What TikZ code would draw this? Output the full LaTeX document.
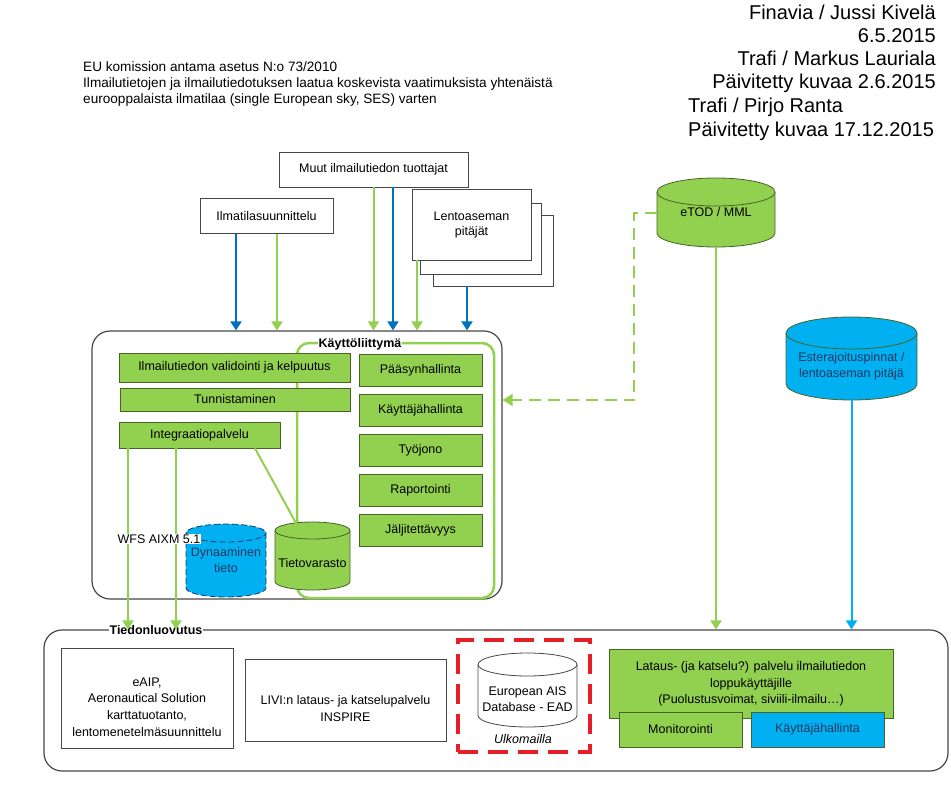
\documentclass[tikz,border=0pt]{standalone}
\usepackage{fontspec}
\setmainfont{Liberation Sans}
\usetikzlibrary{shapes.geometric, arrows.meta, positioning}
\definecolor{leafgreen}{RGB}{146,208,80}
\definecolor{darkleaf}{RGB}{72,100,40}
\definecolor{skyblue}{RGB}{0,176,240}
\definecolor{seablue}{RGB}{0,112,192}
\definecolor{navytext}{RGB}{31,56,100}
\definecolor{framegray}{RGB}{70,70,70}
\definecolor{alertred}{RGB}{230,30,40}

% database drum round a named node: name, x radius, y radius, style
\newcommand{\dbdrum}[4]{%
    \path[#4] ([yshift=-#3pt]#1.north west) -- ([yshift=#3pt]#1.south west)
        arc[start angle=180, end angle=360, x radius=#2pt, y radius=#3pt]
        -- ([yshift=-#3pt]#1.north east)
        arc[start angle=0, end angle=180, x radius=#2pt, y radius=#3pt] -- cycle;
    \path[#4, fill=none] ([yshift=-#3pt]#1.north west)
        arc[start angle=180, end angle=360, x radius=#2pt, y radius=#3pt];
}

\begin{document}
\begin{tikzpicture}[x=1pt, y=-1pt, font=\fontsize{12.5}{15}\selectfont]
    \tikzstyle{box} = [rectangle, draw=framegray, thick, fill=white, align=center, inner sep=1pt]
    \tikzstyle{gbox} = [rectangle, draw=darkleaf, thick, fill=leafgreen, align=center, inner sep=1pt]
    \tikzstyle{bbox} = [rectangle, draw=darkleaf, thick, fill=skyblue, text=navytext, align=center, inner sep=1pt]
    \tikzstyle{frame} = [rectangle, draw=framegray, line width=1.2pt, rounded corners=18pt]
    \tikzstyle{dbspot} = [rectangle, inner sep=0pt, outer sep=0pt]
    \tikzstyle{caption} = [align=center, inner sep=0pt, font=\fontsize{12.5}{16.7}\selectfont]
    \tikzstyle{greenline} = [draw=leafgreen, line width=2pt]
    \tikzstyle{greenarrow} = [greenline, -{Triangle[width=11pt,length=9pt]}]
    \tikzstyle{bluearrow} = [draw=seablue, line width=2pt, -{Triangle[width=11pt,length=9pt]}]
    \tikzstyle{grouplabel} = [fill=white, inner sep=1pt, font=\bfseries\fontsize{12.5}{15}\selectfont]

    \useasboundingbox (0,0) rectangle (951,795);

    % texts at the top
    \node[anchor=north east, align=right, inner sep=0pt, font=\fontsize{20}{23}\selectfont] (credits) at (936, 5) {Finavia / Jussi Kivelä\\6.5.2015\\Trafi / Markus Lauriala\\Päivitetty kuvaa 2.6.2015};
    \node[anchor=north west, align=left, inner sep=0pt, font=\fontsize{20}{24}\selectfont] (history) at (688, 98) {Trafi / Pirjo Ranta\\Päivitetty kuvaa 17.12.2015};
    \node[anchor=north west, align=left, inner sep=0pt, font=\fontsize{13.6}{16}\selectfont] (regulation) at (83, 61) {EU komission antama asetus N:o 73/2010\\Ilmailutietojen ja ilmailutiedotuksen laatua koskevista vaatimuksista yhtenäistä\\eurooppalaista ilmatilaa (single European sky, SES) varten};

    % producers
    \node[box, minimum width=189, minimum height=35] (muut) at (373.5, 169.5) {Muut ilmailutiedon tuottajat};
    \node[box, minimum width=133, minimum height=35] (ilmatila) at (266.5, 216) {Ilmatilasuunnittelu};
    \node[box, minimum width=120, minimum height=71] (lento3) at (493, 250.5) {};
    \node[box, minimum width=121, minimum height=71] (lento2) at (480.5, 238.5) {};
    \node[box, minimum width=119, minimum height=71] (lento1) at (471.5, 224.5) {Lentoaseman\\pitäjät};

    % system frame
    \node[frame, minimum width=410, minimum height=268] (system) at (297, 465) {};
    \node[draw=leafgreen, line width=2.5pt, rounded corners=12pt, minimum width=197, minimum height=255] (ui) at (395.5, 470.5) {};
    \node[grouplabel] (uilabel) at (360, 344) {Käyttöliittymä};

    \node[gbox, minimum width=231, minimum height=29] (validointi) at (234.5, 367.5) {Ilmailutiedon validointi ja kelpuutus};
    \node[gbox, minimum width=230, minimum height=23] (tunnistus) at (235, 399.5) {Tunnistaminen};
    \node[gbox, minimum width=161, minimum height=26] (integraatio) at (199.5, 435) {Integraatiopalvelu};

    \foreach \name/\txt [count=\i from 0] in {paasy/Pääsynhallinta, kayttaja/Käyttäjähallinta, tyojono/Työjono, raportointi/Raportointi, jaljitys/Jäljitettävyys}
        \node[gbox, minimum width=123, minimum height=32] (\name) at (420.5, 370+40*\i) {\txt};

    \node[dbspot, minimum width=80, minimum height=73] (dynaaminen) at (226, 560.5) {};
    \dbdrum{dynaaminen}{40}{9}{fill=skyblue, draw=navytext, thick, dash pattern=on 6pt off 3pt}
    \node[caption, text=navytext] (dynaamintext) at (226, 560) {Dynaaminen\\tieto};
    \node[dbspot, minimum width=75, minimum height=68] (tietovarasto) at (312.5, 556) {};
    \dbdrum{tietovarasto}{37.5}{8.5}{fill=leafgreen, draw=darkleaf, thick}
    \node[caption] (varastotext) at (312.5, 563) {Tietovarasto};
    \draw[greenline] ([xshift=55.5pt]integraatio.south) -- ([xshift=-16pt,yshift=-2pt]tietovarasto.north);

    % data sources on the right
    \node[dbspot, minimum width=118, minimum height=69] (etod) at (716, 212.5) {};
    \dbdrum{etod}{59}{14}{fill=leafgreen, draw=darkleaf, thick}
    \node[caption] (etodtext) at (716, 212) {eTOD / MML};
    \node[dbspot, minimum width=131, minimum height=83] (estera) at (851.5, 358.5) {};
    \dbdrum{estera}{65.5}{16}{fill=skyblue, draw=darkleaf, thick}
    \node[caption, font=\fontsize{12.5}{16}\selectfont, text=navytext] (esteratext) at (851.5, 366) {Esterajoituspinnat /\\lentoaseman pitäjä};

    % distribution
    \node[frame, minimum width=904, minimum height=141] (luovutus) at (496, 700.5) {};
    \node[grouplabel] (luovutuslabel) at (156, 630) {Tiedonluovutus};
    \node[box, minimum width=172, minimum height=100] (eaip) at (147, 698) {};
    \node[caption] (eaiptext) at (147, 707) {eAIP,\\Aeronautical Solution\\karttatuotanto,\\lentomenetelmäsuunnittelu};
    \node[box, minimum width=201, minimum height=82] (livi) at (345.5, 700) {};
    \node[caption] (livitext) at (345.5, 708.5) {LIVI:n lataus- ja katselupalvelu\\INSPIRE};
    \node[draw=alertred, line width=4pt, dash pattern=on 20pt off 10pt, minimum width=132, minimum height=112] (ulkomailla) at (524, 696) {};
    \node[dbspot, minimum width=99, minimum height=74] (ead) at (527.5, 690) {};
    \dbdrum{ead}{49.5}{11.5}{fill=white, draw=framegray, thick}
    \node[caption, font=\fontsize{12.5}{16}\selectfont] (eadtext) at (527.5, 699) {European AIS\\Database - EAD};
    \node[font=\itshape\fontsize{12.5}{15}\selectfont] (ulkolabel) at (523, 739) {Ulkomailla};
    \node[gbox, minimum width=284, minimum height=69] (lataus) at (751, 683.5) {};
    \node[caption] (lataustext) at (751, 684) {Lataus- (ja katselu?) palvelu ilmailutiedon\\loppukäyttäjille\\(Puolustusvoimat, siviili-ilmailu\dots)};
    \node[gbox, minimum width=123, minimum height=35] (monitorointi) at (680.5, 729.5) {Monitorointi};
    \node[bbox, minimum width=133, minimum height=35] (kayttaja2) at (817.5, 729.5) {Käyttäjähallinta};

    % connectors
    \draw[bluearrow] ([xshift=-30.5pt]ilmatila.south) -- ([xshift=-30.5pt]ilmatila.south |- system.north);
    \draw[greenarrow] ([xshift=10.5pt]ilmatila.south) -- ([xshift=10.5pt]ilmatila.south |- system.north);
    \draw[greenarrow] (muut.south) -- (muut.south |- system.north);
    \draw[bluearrow] ([xshift=19.5pt]muut.south) -- ([xshift=19.5pt]muut.south |- system.north);
    \draw[greenarrow] ([xshift=-54.5pt]lento1.south) -- ([xshift=-54.5pt]lento1.south |- system.north);
    \draw[bluearrow] ([xshift=-26pt]lento3.south) -- ([xshift=-26pt]lento3.south |- system.north);
    \draw[greenarrow, dashed, dash pattern=on 12pt off 7pt, -{Triangle[width=12pt,length=10pt]}] (etod.west) -- ++(-23,0) |- ([yshift=65pt]system.east);
    \draw[greenarrow] (etod.south) -- (etod.south |- luovutus.north);
    \draw[draw=skyblue, line width=2pt, -{Triangle[width=11pt,length=9pt]}] (estera.south) -- (estera.south |- luovutus.north);
    \draw[greenarrow] ([xshift=-71.5pt]integraatio.south) -- ([xshift=-71.5pt]integraatio.south |- luovutus.north);
    \draw[greenarrow] ([xshift=-23.5pt]integraatio.south) -- ([xshift=-23.5pt]integraatio.south |- luovutus.north);

    \node[fill=white, inner sep=1pt] (wfs) at (159, 539) {WFS AIXM 5.1};
\end{tikzpicture}
\end{document}
